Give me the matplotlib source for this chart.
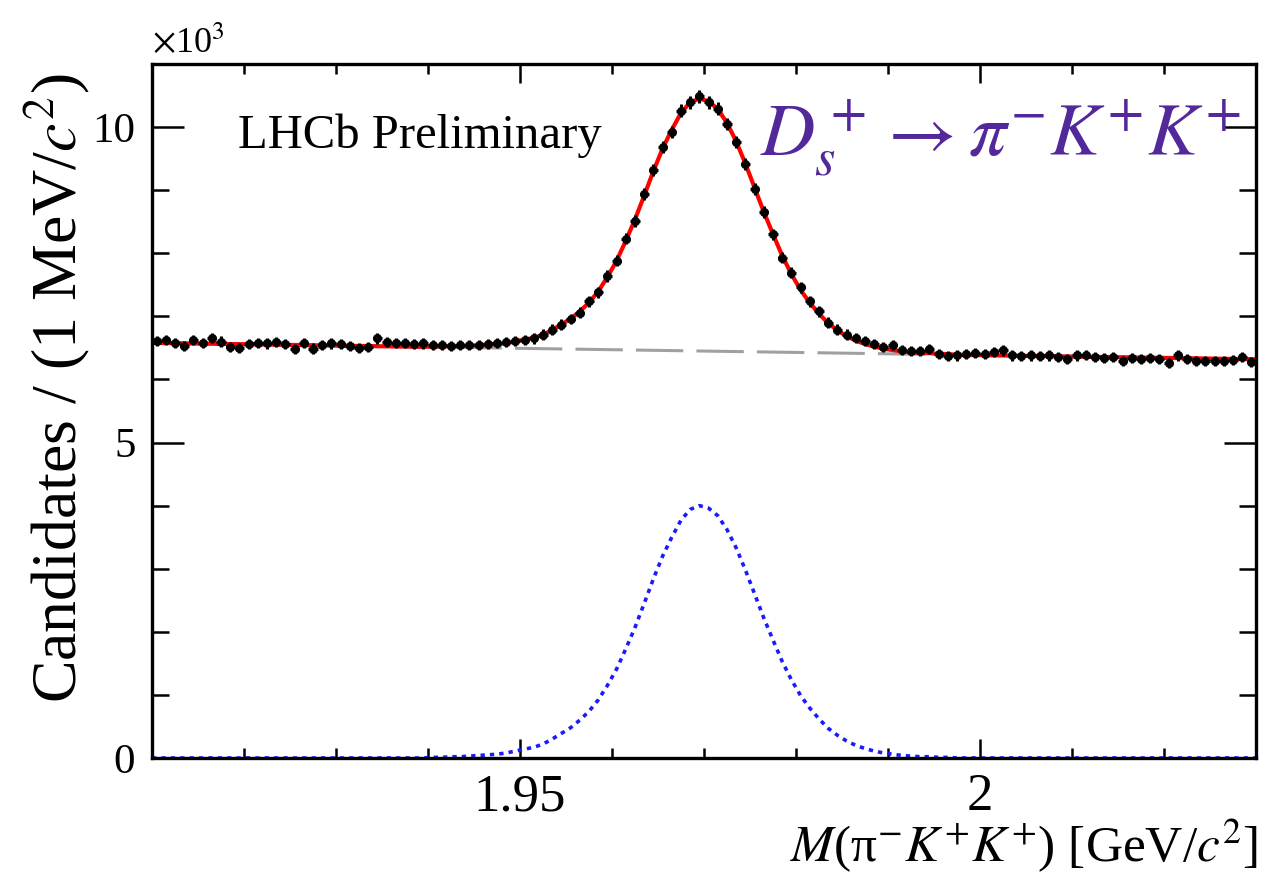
import numpy as np
import matplotlib
matplotlib.use("Agg")
import matplotlib.pyplot as plt
from matplotlib.ticker import FixedLocator, MultipleLocator

plt.rcParams["font.family"] = ["Liberation Serif", "DejaVu Serif"]
plt.rcParams["mathtext.fontset"] = "stix"

# mass histogram, 1 MeV bins from 1.91 to 2.03 GeV, counts in units of 10^3
mass_lo = 1.91
mass_hi = 2.03
bin_width = 0.001

counts = [
    6.61, 6.62, 6.58, 6.53, 6.62, 6.58, 6.66, 6.60, 6.52, 6.50,
    6.56, 6.58, 6.57, 6.59, 6.56, 6.48, 6.58, 6.49, 6.55, 6.57,
    6.56, 6.53, 6.50, 6.52, 6.65, 6.59, 6.58, 6.58, 6.56, 6.57,
    6.55, 6.54, 6.53, 6.54, 6.55, 6.54, 6.56, 6.58, 6.59, 6.61,
    6.63, 6.65, 6.71, 6.79, 6.87, 6.96, 7.06, 7.24, 7.38, 7.64,
    7.88, 8.23, 8.51, 8.94, 9.32, 9.68, 9.92, 10.26, 10.39, 10.49,
    10.39, 10.29, 10.05, 9.76, 9.41, 9.02, 8.65, 8.30, 7.93, 7.69,
    7.46, 7.24, 7.08, 6.90, 6.79, 6.71, 6.66, 6.61, 6.56, 6.52,
    6.54, 6.47, 6.45, 6.45, 6.48, 6.40, 6.37, 6.38, 6.41, 6.42,
    6.41, 6.43, 6.46, 6.38, 6.37, 6.38, 6.37, 6.38, 6.36, 6.33,
    6.38, 6.39, 6.35, 6.34, 6.35, 6.29, 6.34, 6.33, 6.34, 6.32,
    6.26, 6.38, 6.33, 6.30, 6.29, 6.30, 6.29, 6.31, 6.36, 6.27,
]

# signal component of the fit, evaluated at the bin centres
signal = [0.0] * 30 + [
    0.01, 0.01, 0.02, 0.02, 0.03, 0.04, 0.05, 0.06, 0.08, 0.11,
    0.14, 0.17, 0.22, 0.30, 0.39, 0.48, 0.60, 0.74, 0.92, 1.15,
    1.41, 1.73, 2.07, 2.45, 2.84, 3.20, 3.50, 3.77, 3.94, 4.00,
    3.96, 3.84, 3.62, 3.33, 2.98, 2.60, 2.22, 1.87, 1.53, 1.24,
    0.99, 0.79, 0.62, 0.47, 0.36, 0.27, 0.20, 0.15, 0.11, 0.08,
    0.06, 0.04, 0.03, 0.02, 0.02, 0.01, 0.01,
] + [0.0] * 33

# linear background component at the range edges
bkg_mass = [1.91, 2.03]
bkg_level = [6.58, 6.32]

counts = np.array(counts)
centers = mass_lo + bin_width * (np.arange(len(counts)) + 0.5)
yerr = np.sqrt(counts * 1000.0) / 1000.0

fit_x = np.r_[mass_lo, centers, mass_hi]
fit_sig = np.r_[0.0, signal, 0.0]
fit_bkg = np.interp(fit_x, bkg_mass, bkg_level)
fit_tot = fit_bkg + fit_sig

W, H = 1266, 877
fig = plt.figure(figsize=(W / 100, H / 100), dpi=100)
ax = fig.add_axes([152 / W, 1 - 758 / H, (1256 - 152) / W, (758 - 64) / H])

ax.plot(fit_x, fit_sig, color="#1a1aff", lw=2.6, linestyle=(0, (1.2, 1.4)))
ax.plot(fit_x, fit_bkg, color="#a0a0a0", lw=2.2, linestyle=(0, (15.5, 4.3)))
ax.plot(fit_x, fit_tot, color="#ff0000", lw=3.0)
ax.errorbar(centers, counts, yerr=yerr, xerr=bin_width / 2, fmt="o",
            color="black", ms=5.5, elinewidth=2.2, capsize=0)

ax.set_xlim(mass_lo, mass_hi)
ax.set_ylim(0, 11)

ax.xaxis.set_major_locator(FixedLocator([1.95, 2.0]))
ax.xaxis.set_minor_locator(MultipleLocator(0.01))
ax.yaxis.set_major_locator(FixedLocator([0, 5, 10]))
ax.yaxis.set_minor_locator(MultipleLocator(1))
ax.set_xticklabels(["1.95", "2"])
ax.set_yticklabels(["0", "5", "10"])

ax.tick_params(axis="both", which="both", direction="in",
               top=True, right=True, width=1.8, color="black")
ax.tick_params(axis="x", which="major", length=14, labelsize=38, pad=11)
ax.tick_params(axis="x", which="minor", length=7)
ax.tick_params(axis="y", which="major", length=23, labelsize=31, pad=12)
ax.tick_params(axis="y", which="minor", length=12)
for sp in ax.spines.values():
    sp.set_linewidth(2.4)

fig.text(152 / W, 1 - 44 / H, r"$\times$10$^{3}$", fontsize=26,
         ha="left", va="center")
fig.text(57 / W, 1 - 388 / H, r"Candidates / (1 MeV/$c^{2}$)", fontsize=46,
         rotation=90, ha="center", va="center")
fig.text(1258 / W, 1 - 846 / H,
         r"$M$(π$^{-}$$K^{+}$$K^{+}$) [GeV/$c^{2}$]", fontsize=37,
         ha="right", va="center")
fig.text(238 / W, 1 - 136 / H, "LHCb Preliminary", fontsize=35,
         ha="left", va="center")
fig.text(760 / W, 1 - 138 / H, r"$D_s^+ \rightarrow \pi^{-}K^{+}K^{+}$",
         fontsize=54, color="#52289a", ha="left", va="center")

fig.savefig("out.png", dpi=100)
